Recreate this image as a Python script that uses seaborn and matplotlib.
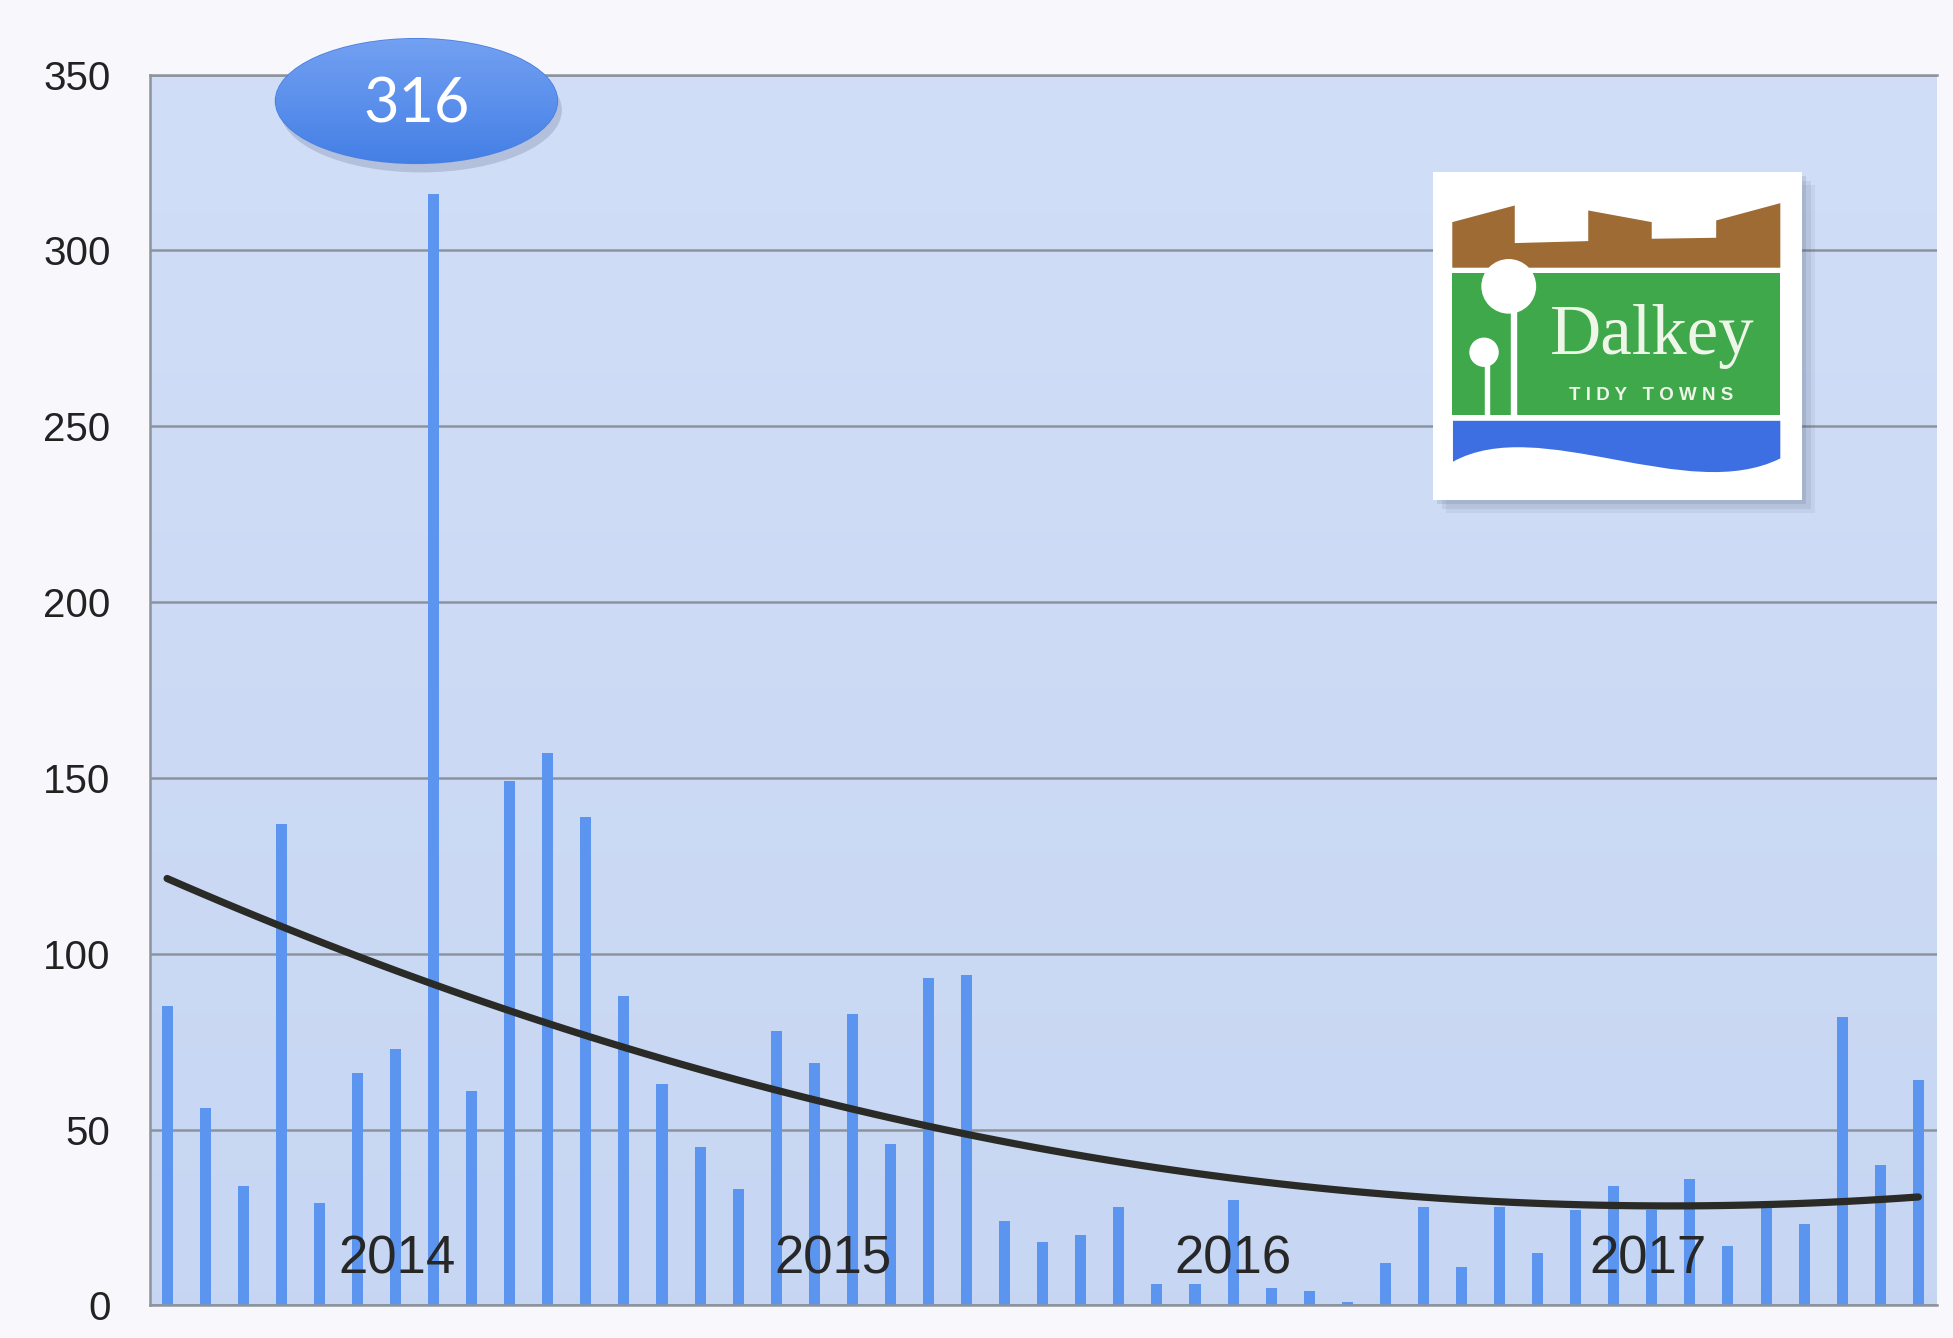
import numpy as np
import pandas as pd
import matplotlib
matplotlib.use("Agg")
import matplotlib.pyplot as plt
import matplotlib.patches as mpatches
from matplotlib.path import Path
import seaborn as sns

# ============================================================
# Monthly counts, Jan 2014 onwards, with a 2nd order trendline
# ============================================================

# monthly values (47 months)
counts = [85, 56, 34, 137, 29, 66, 73, 316, 61, 149, 157, 139,
          88, 63, 45, 33, 78, 69, 83, 46, 93, 94, 24, 18,
          20, 28, 6, 6, 30, 5, 4, 1, 12, 28, 11, 28,
          15, 27, 34, 27, 36, 17, 28, 23, 82, 40, 64]
months = list(range(len(counts)))

year_labels = ["2014", "2015", "2016", "2017"]
year_label_at = [6.05, 17.5, 28.0, 38.9]   # month index the label sits over

y_ticks = [0, 50, 100, 150, 200, 250, 300, 350]

# --- colours ---
BAR = "#5c95ef"
TREND = "#2a2a26"
GRID = "#8d939c"
PLOT_BG_TOP = np.array([0.82, 0.87, 0.97])
PLOT_BG_BOT = np.array([0.78, 0.84, 0.95])


def draw_logo(fig):
    """Dalkey Tidy Towns badge, top right."""
    # soft drop shadow
    for i, a in enumerate([0.08, 0.10, 0.14]):
        off = 0.0022 * (3 - i)
        fig.patches.append(mpatches.Rectangle(
            (0.7337 + off, 0.6263 - off * 1.46), 0.189, 0.245,
            transform=fig.transFigure, facecolor="#4a5570", alpha=a,
            edgecolor="none", zorder=1))

    lax = fig.add_axes([0.7337, 0.6263, 0.189, 0.245], zorder=5)
    lax.set_xlim(100, 1205)
    lax.set_ylim(1050, 65)
    lax.axis("off")
    lax.add_patch(mpatches.Rectangle((100, 65), 1105, 985, facecolor="white",
                                     edgecolor="none", zorder=0))
    # castle / rooftops
    roof = [(158, 352), (158, 215), (345, 165), (345, 278), (565, 272),
            (565, 180), (755, 215), (755, 265), (948, 262), (948, 210),
            (1140, 158), (1140, 352)]
    lax.add_patch(mpatches.Polygon(roof, closed=True, facecolor="#9e6b34",
                                   edgecolor="none", zorder=1))
    # green band
    lax.add_patch(mpatches.Rectangle((158, 368), 982, 427, facecolor="#3fa84a",
                                     edgecolor="none", zorder=1))
    # blue wave
    verts = [(160, 812), (1140, 812), (1140, 925),
             (860, 1065), (420, 790), (160, 935), (160, 812)]
    codes = [Path.MOVETO, Path.LINETO, Path.LINETO,
             Path.CURVE4, Path.CURVE4, Path.CURVE4, Path.CLOSEPOLY]
    lax.add_patch(mpatches.PathPatch(Path(verts, codes), facecolor="#3d6fe2",
                                     edgecolor="none", zorder=1))
    # trees
    lax.add_patch(mpatches.Circle((327, 408), 80, facecolor="white", zorder=2))
    lax.add_patch(mpatches.Rectangle((333, 470), 17, 330, facecolor="white", zorder=2))
    lax.add_patch(mpatches.Circle((253, 606), 42, facecolor="white", zorder=2))
    lax.add_patch(mpatches.Rectangle((255, 630), 13, 170, facecolor="white", zorder=2))
    # lettering
    lax.text(450, 612, "Dalkey", family=["Liberation Serif", "DejaVu Serif"],
             fontsize=51, color="#eef6e8", ha="left", va="baseline", zorder=3)
    lax.text(752, 735, "T I D Y   T O W N S", family=["Liberation Sans", "DejaVu Sans"],
             fontsize=13.5, fontweight="bold", color="#eef6e8",
             ha="center", va="center", zorder=3)


def main():
    sns.set_style("white")
    plt.rcParams["font.family"] = ["Liberation Sans", "DejaVu Sans"]

    fig = plt.figure(figsize=(19.53, 13.38), dpi=100, facecolor="#f8f8fc")
    ax = fig.add_axes([0.0766, 0.0244, 0.915, 0.9198])

    xlo, xhi = -0.46, len(counts) - 0.52

    # plot area background, light periwinkle gradient
    grad = np.linspace(0, 1, 256)[:, None, None]
    bg = PLOT_BG_TOP * (1 - grad) + PLOT_BG_BOT * grad
    ax.imshow(bg, extent=(xlo, xhi, 0, 350), aspect="auto", zorder=0,
              interpolation="bicubic")

    df = pd.DataFrame({"month": months, "count": counts})

    sns.barplot(data=df, x="month", y="count", color=BAR, saturation=1,
                width=0.29, edgecolor="none", linewidth=0, ax=ax, zorder=2)

    sns.regplot(data=df, x="month", y="count", order=2, ci=None,
                scatter=False, ax=ax,
                line_kws=dict(color=TREND, lw=5.2, zorder=3,
                              solid_capstyle="round"))

    ax.set_xlim(xlo, xhi)
    ax.set_ylim(0, 350)
    ax.set_yticks(y_ticks)
    ax.set_xticks([])
    ax.set_xlabel("")
    ax.set_ylabel("")

    ax.set_axisbelow(True)
    ax.yaxis.grid(True, color=GRID, lw=1.8)
    ax.spines["right"].set_visible(False)
    for side in ["left", "bottom", "top"]:
        ax.spines[side].set_color(GRID)
        ax.spines[side].set_linewidth(1.8)
    ax.tick_params(axis="y", direction="out", length=9, width=1.6,
                   color=GRID, pad=19, labelsize=29, labelcolor="#222222")

    # year labels over the bars
    for lab, x in zip(year_labels, year_label_at):
        ax.text(x, 13, lab, fontsize=38, color="#272727",
                ha="center", va="center", zorder=4)

    # peak callout
    peak = int(np.argmax(counts))
    ex, ey, ew, eh = peak - 0.45, 342.5, 7.4, 35.4
    ax.add_patch(mpatches.Ellipse((ex + 0.12, ey - 2.6), ew, eh,
                                  facecolor="#6f7ea0", alpha=0.30,
                                  edgecolor="none", clip_on=False, zorder=5))
    ell = mpatches.Ellipse((ex, ey), ew, eh, facecolor="#4f88ea",
                           edgecolor="#4a80df", lw=1.2, clip_on=False, zorder=6)
    ax.add_patch(ell)
    g = np.linspace(0, 1, 128)[:, None, None]
    top_c, bot_c = np.array([0.45, 0.63, 0.95]), np.array([0.27, 0.50, 0.90])
    im = ax.imshow(top_c * (1 - g) + bot_c * g,
                   extent=(ex - ew / 2, ex + ew / 2, ey - eh / 2, ey + eh / 2),
                   aspect="auto", zorder=6.5, interpolation="bicubic")
    im.set_clip_path(ell)
    im.set_clip_box(fig.bbox)
    ax.text(ex, ey - 1, str(max(counts)), color="white", fontsize=44,
            family=["Lato", "DejaVu Sans"], ha="center", va="center",
            zorder=7, clip_on=False)

    ax.set_xlim(xlo, xhi)
    ax.set_ylim(0, 350)

    draw_logo(fig)

    fig.savefig("out.png", dpi=100, facecolor=fig.get_facecolor())


if __name__ == "__main__":
    main()
